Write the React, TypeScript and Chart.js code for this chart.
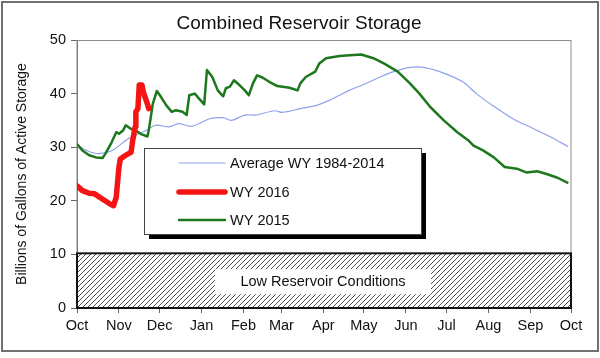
import React, { useEffect, useRef } from "react";
import { Chart, registerables } from "chart.js";

Chart.register(...registerables);

// ---- Data ----
const monthDays = [0, 31, 61, 92, 123, 151, 182, 212, 243, 273, 304, 335, 365];
const monthLabels = ["Oct", "Nov", "Dec", "Jan", "Feb", "Mar", "Apr", "May", "Jun", "Jul", "Aug", "Sep", "Oct"];
const yTickValues = [0, 10, 20, 30, 40, 50];

const seriesNames = ["Average WY 1984-2014", "WY 2016", "WY 2015"];

const avgDays = [0, 8, 16, 26, 38, 51, 58, 68, 75, 85, 98, 108, 114, 124, 132, 146, 152, 165, 177, 187, 194, 201, 211, 224, 234, 246, 256, 268, 285, 295, 307, 322, 337, 350, 363];
const avgValues = [30.4, 29.3, 28.8, 29.4, 31.6, 33.1, 34.1, 33.8, 34.4, 33.9, 35.3, 35.5, 35.0, 36.0, 36.0, 36.8, 36.5, 37.2, 37.8, 38.8, 39.7, 40.6, 41.6, 43.1, 44.1, 44.9, 44.9, 44.1, 42.2, 40.0, 37.8, 35.3, 33.5, 31.9, 30.1];

const wy2016Days = [0, 4, 9, 13, 19, 25, 27, 29, 31, 32, 36, 40, 41, 43, 43.5, 45, 46, 48, 49, 52, 53];
const wy2016Values = [22.8, 21.9, 21.4, 21.3, 20.3, 19.3, 19.1, 20.7, 26.3, 27.8, 28.5, 29.1, 31.0, 33.8, 36.6, 37.2, 41.6, 41.6, 40.3, 38.1, 37.2];

const wy2015Days = [0, 4, 9, 14, 19, 21, 25, 29, 31, 34, 36, 40, 44, 47, 52, 53, 56, 59, 62, 66, 70, 73, 78, 81, 83, 87, 89, 94, 96, 100, 104, 108, 110, 113, 116, 120, 124, 127, 130, 133, 137, 142, 148, 157, 163, 165, 169, 176, 179, 184, 194, 199, 210, 219, 227, 237, 246, 253, 261, 271, 281, 289, 293, 300, 308, 316, 325, 332, 340, 347, 355, 363];
const wy2015Values = [30.6, 29.4, 28.5, 28.1, 28.0, 28.8, 30.6, 32.8, 32.5, 33.1, 34.1, 33.4, 33.0, 32.5, 32.0, 33.1, 38.1, 40.5, 39.4, 37.8, 36.6, 36.9, 36.6, 36.0, 39.7, 40.0, 39.4, 38.0, 44.4, 43.1, 40.6, 39.5, 41.0, 41.3, 42.5, 41.6, 40.6, 39.7, 41.9, 43.4, 43.0, 42.2, 41.4, 41.1, 40.6, 41.9, 43.1, 44.1, 45.6, 46.6, 47.0, 47.1, 47.3, 46.6, 45.6, 44.1, 41.9, 40.0, 37.5, 35.0, 32.8, 31.3, 30.3, 29.4, 28.1, 26.3, 26.0, 25.3, 25.5, 25.0, 24.3, 23.3];

const lowThreshold = 10.2;
const lowLabelLevel = 4.9;
const lowLabel = "Low Reservoir Conditions";
const titleText = "Combined Reservoir Storage";
const yTitleText = "Billions of Gallons of Active Storage";

const FONT = '"Liberation Sans", Arial, Helvetica, sans-serif';

const zip = (xs: number[], ys: number[]) => xs.map((x, i) => ({ x, y: ys[i] }));

const decorPlugin = {
  id: "decor",
  beforeDatasetsDraw(chart: any) {
    const { ctx, chartArea: a, scales } = chart;
    const y = scales.y;
    ctx.save();
    // plot frame
    ctx.strokeStyle = "#8c8c8c";
    ctx.lineWidth = 1;
    ctx.strokeRect(a.left, a.top + 0.5, a.right - a.left, a.bottom - a.top);

    // hatched low region
    const top = y.getPixelForValue(lowThreshold);
    const bot = y.getPixelForValue(0);
    const pc = document.createElement("canvas");
    pc.width = 5;
    pc.height = 5;
    const p = pc.getContext("2d")!;
    p.strokeStyle = "#3a3a3a";
    p.lineWidth = 0.9;
    p.beginPath();
    p.moveTo(0, 5);
    p.lineTo(5, 0);
    p.moveTo(-1, 1);
    p.lineTo(1, -1);
    p.moveTo(4, 6);
    p.lineTo(6, 4);
    p.stroke();
    const pat = ctx.createPattern(pc, "repeat");
    ctx.fillStyle = "#fff";
    ctx.fillRect(a.left, top, a.right - a.left, bot - top);
    ctx.fillStyle = pat;
    ctx.fillRect(a.left, top, a.right - a.left, bot - top);
    ctx.lineWidth = 2;
    ctx.strokeStyle = "#111";
    ctx.strokeRect(a.left, top, a.right - a.left, bot - top);

    // label box
    const cx = (a.left + a.right) / 2 - 1;
    const cy = y.getPixelForValue(lowLabelLevel);
    ctx.fillStyle = "#fff";
    ctx.fillRect(cx - 108, cy - 12.5, 216, 25);
    ctx.fillStyle = "#111";
    ctx.font = `14.5px ${FONT}`;
    ctx.textAlign = "center";
    ctx.textBaseline = "middle";
    ctx.fillText(lowLabel, cx, cy + 0.5);
    ctx.restore();
  },
  afterDatasetsDraw(chart: any) {
    const { ctx, chartArea: a } = chart;
    ctx.save();
    // legend
    const lx = a.left + 67;
    const ly = a.top + 108;
    const lw = 277;
    const lh = 86;
    ctx.fillStyle = "#000";
    ctx.fillRect(lx + 5, ly + 5, lw, lh);
    ctx.fillStyle = "#fff";
    ctx.fillRect(lx, ly, lw, lh);
    ctx.strokeStyle = "#444";
    ctx.lineWidth = 1;
    ctx.strokeRect(lx + 0.5, ly + 0.5, lw, lh);
    const rows = [15, 44, 72];
    [0, 1, 2].forEach((di, i) => {
      const ds = chart.data.datasets[di];
      const ry = ly + rows[i];
      ctx.strokeStyle = ds.borderColor;
      ctx.lineWidth = ds.borderWidth;
      ctx.lineCap = "round";
      ctx.beginPath();
      ctx.moveTo(lx + 35, ry);
      ctx.lineTo(lx + 81, ry);
      ctx.stroke();
      ctx.fillStyle = "#111";
      ctx.font = `14.5px ${FONT}`;
      ctx.textAlign = "left";
      ctx.textBaseline = "middle";
      ctx.fillText(ds.label, lx + 86, ry + 0.5);
    });
    ctx.restore();
  },
  afterDraw(chart: any) {
    const { ctx, chartArea: a } = chart;
    ctx.save();
    // main title
    ctx.fillStyle = "#111";
    ctx.font = `19px ${FONT}`;
    ctx.textAlign = "center";
    ctx.textBaseline = "middle";
    ctx.fillText(titleText, 299, 24);
    // y axis title
    ctx.translate(22, (a.top + a.bottom) / 2);
    ctx.rotate(-Math.PI / 2);
    ctx.font = `14px ${FONT}`;
    ctx.fillText(yTitleText, 0, 0);
    ctx.restore();
  },
};

export default function App() {
  const ref = useRef<HTMLCanvasElement | null>(null);

  useEffect(() => {
    if (!ref.current) return;
    const chart = new Chart(ref.current, {
      type: "line",
      data: {
        datasets: [
          {
            label: seriesNames[0],
            data: zip(avgDays, avgValues),
            borderColor: "#8ea2ee",
            borderWidth: 1.2,
            pointRadius: 0,
            tension: 0.3,
            order: 3,
          },
          {
            label: seriesNames[1],
            data: zip(wy2016Days, wy2016Values),
            borderColor: "#f51414",
            borderWidth: 5.5,
            pointRadius: 0,
            tension: 0,
            borderJoinStyle: "round",
            borderCapStyle: "round",
            order: 1,
          },
          {
            label: seriesNames[2],
            data: zip(wy2015Days, wy2015Values),
            borderColor: "#1d771d",
            borderWidth: 2.5,
            pointRadius: 0,
            tension: 0,
            borderJoinStyle: "round",
            order: 2,
          },
        ],
      },
      options: {
        animation: false,
        responsive: false,
        layout: { padding: { left: 0, right: 29, top: 40, bottom: 0 } },
        plugins: {
          legend: { display: false },
          tooltip: { enabled: false },
          title: { display: false },
        },
        scales: {
          x: {
            type: "linear",
            min: 0,
            max: 365,
            afterFit: (s: any) => {
              s.height = 50;
            },
            afterBuildTicks: (s: any) => {
              s.ticks = monthDays.map((v) => ({ value: v }));
            },
            ticks: {
              autoSkip: false,
              maxRotation: 0,
              padding: 4,
              color: "#111",
              font: { family: FONT, size: 14.5 },
              callback: (_v: any, i: number) => monthLabels[i],
            },
            grid: { drawOnChartArea: false, drawTicks: true, tickLength: 5, color: "#666" },
            border: { display: true, color: "#666" },
          },
          y: {
            type: "linear",
            min: 0,
            max: 50,
            afterFit: (s: any) => {
              s.width = 77;
            },
            afterBuildTicks: (s: any) => {
              s.ticks = yTickValues.map((v) => ({ value: v }));
            },
            ticks: {
              padding: 5,
              color: "#111",
              font: { family: FONT, size: 14.5 },
            },
            grid: { drawOnChartArea: false, drawTicks: true, tickLength: 6, color: "#666" },
            border: { display: true, color: "#666" },
          },
        },
      },
      plugins: [decorPlugin],
    } as any);
    return () => chart.destroy();
  }, []);

  return (
    <div style={{ position: "absolute", left: 0, top: 0, width: 600, height: 358, background: "#fff" }}>
      <canvas ref={ref} width={600} height={358} style={{ display: "block", width: 600, height: 358 }} />
      <div
        style={{
          position: "absolute",
          left: 1,
          top: 1,
          width: 598,
          height: 351,
          boxSizing: "border-box",
          border: "2px solid #707070",
          pointerEvents: "none",
        }}
      />
    </div>
  );
}
